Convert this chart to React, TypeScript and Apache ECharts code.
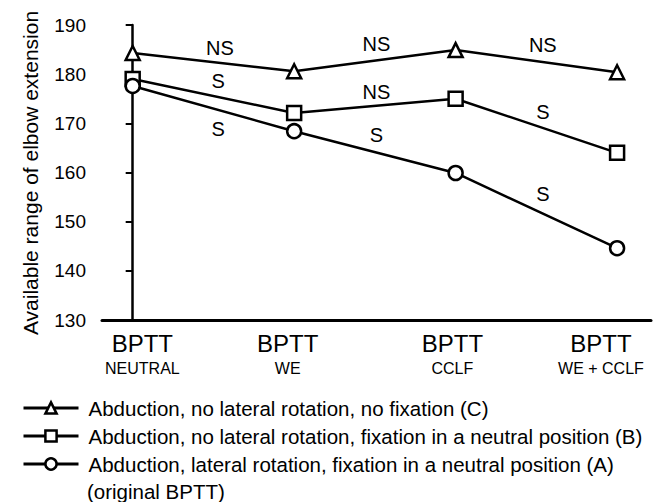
import React, { useEffect, useRef } from "react";
import * as echarts from "echarts";

const categories = ["NEUTRAL", "WE", "CCLF", "WE + CCLF"];
const categoryTop = "BPTT";
const labelSpots = [0.06, 0.96, 1.98, 2.9];

const seriesNames = [
  "Abduction, no lateral rotation, no fixation (C)",
  "Abduction, no lateral rotation, fixation in a neutral position (B)",
  "Abduction, lateral rotation, fixation in a neutral position (A)",
];
const seriesC = [184.3, 180.6, 184.9, 180.4];
const seriesB = [179.0, 172.1, 175.0, 164.0];
const seriesA = [177.6, 168.4, 159.9, 144.6];
const symbols = ["triangle", "rect", "circle"];

// significance annotations: [x (category position), y (value), text]
const annotations: [number, number, string][] = [
  [0.54, 185.3, "NS"],
  [0.53, 178.6, "S"],
  [0.53, 168.8, "S"],
  [1.51, 186.1, "NS"],
  [1.51, 176.4, "NS"],
  [1.51, 167.6, "S"],
  [2.54, 185.9, "NS"],
  [2.54, 172.3, "S"],
  [2.54, 155.6, "S"],
];

const yMin = 130;
const yMax = 190;
const yInterval = 10;
const yTitle = "Available range of elbow extension";
const legendExtra = "(original BPTT)";

const FONT = "'Liberation Sans', Arial, Helvetica, sans-serif";

export default function App() {
  const ref = useRef<HTMLDivElement>(null);
  useEffect(() => {
    if (!ref.current) return;
    const chart = echarts.init(ref.current, null, { renderer: "svg" });
    const allSeries = [seriesC, seriesB, seriesA];
    const lineSeries = allSeries.map((vals, i) => ({
      name: seriesNames[i],
      type: "line",
      data: vals.map((v, j) => [j, v]),
      symbol: symbols[i],
      symbolSize: 14,
      showAllSymbol: true,
      lineStyle: { color: "#000", width: 2.5 },
      itemStyle: { color: "#fff", borderColor: "#000", borderWidth: 2.5 },
      z: 3,
    }));
    chart.setOption({
      animation: false,
      backgroundColor: "#fff",
      textStyle: { fontFamily: FONT, color: "#000" },
      grid: {
        left: 102,
        right: 13,
        top: 25,
        bottom: 182,
        containLabel: false,
        outerBoundsMode: "none",
      },
      xAxis: {
        type: "value",
        min: -0.19,
        max: 3.21,
        splitLine: { show: false },
        axisLine: { show: true, lineStyle: { color: "#000", width: 3 } },
        axisTick: { show: false },
        axisLabel: {
          customValues: labelSpots,
          margin: 9,
          formatter: (v: number) => {
            const idx = Math.max(0, Math.min(categories.length - 1, Math.round(v)));
            return "{a|" + categoryTop + "}\n{b|" + categories[idx] + "}";
          },
          rich: {
            a: { fontSize: 24, lineHeight: 28, color: "#000", fontFamily: FONT },
            b: { fontSize: 16, lineHeight: 22, color: "#000", fontFamily: FONT },
          },
        },
      },
      yAxis: {
        type: "value",
        min: yMin,
        max: yMax,
        interval: yInterval,
        splitLine: { show: false },
        axisLine: { show: true, lineStyle: { color: "#000", width: 2.5 } },
        axisTick: { show: true, inside: false, length: 7, lineStyle: { color: "#000", width: 2 } },
        axisLabel: { fontSize: 19, color: "#000", margin: 16, fontFamily: FONT },
      },
      legend: {
        data: seriesNames,
        orient: "vertical",
        left: 22,
        top: 396,
        padding: 0,
        itemWidth: 55,
        itemHeight: 14,
        itemGap: 4,
        selectedMode: false,
        itemStyle: { borderWidth: 2.5 },
        lineStyle: { width: 3 },
        textStyle: { fontSize: 20.5, lineHeight: 24, color: "#000", fontFamily: FONT, padding: [0, 0, 0, 5] },
      },
      graphic: [
        {
          type: "text",
          x: 30,
          y: 173,
          rotation: Math.PI / 2,
          style: {
            text: yTitle,
            fontSize: 21,
            fontFamily: FONT,
            fill: "#000",
            align: "center",
            verticalAlign: "middle",
          },
        },
        {
          type: "text",
          x: 87,
          y: 491,
          style: {
            text: legendExtra,
            fontSize: 20.5,
            fontFamily: FONT,
            fill: "#000",
            align: "left",
            verticalAlign: "middle",
          },
        },
      ],
      series: [
        ...lineSeries,
        {
          name: "annotations",
          type: "scatter",
          data: annotations.map((a) => ({ value: [a[0], a[1]], name: a[2] })),
          symbolSize: 0,
          silent: true,
          itemStyle: { opacity: 1, color: "#000" },
          label: {
            show: true,
            position: "inside",
            formatter: (p: any) => p.name,
            fontSize: 20,
            color: "#000",
            opacity: 1,
            fontFamily: FONT,
          },
          z: 4,
        },
      ],
    });
    return () => chart.dispose();
  }, []);
  return (
    <div
      ref={ref}
      style={{ position: "fixed", left: 0, top: 0, width: 664, height: 502 }}
    />
  );
}
